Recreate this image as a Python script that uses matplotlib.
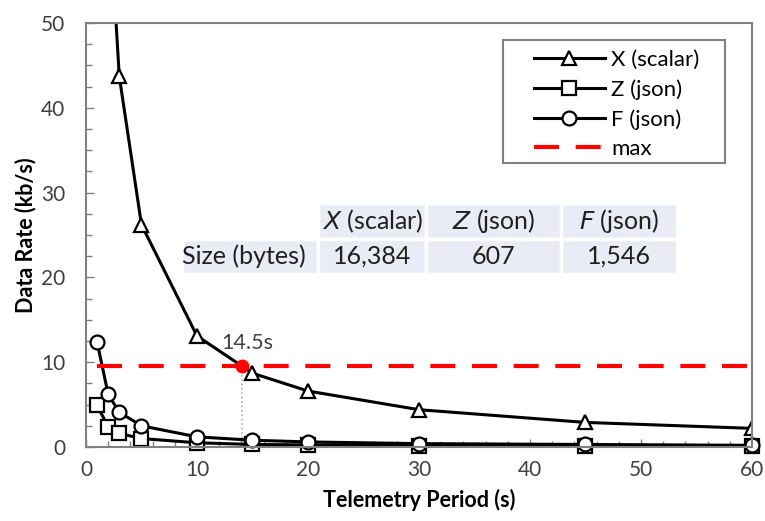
import matplotlib.pyplot as plt
from matplotlib.patches import Rectangle
from matplotlib.ticker import MultipleLocator

plt.rcParams['font.family'] = ['Lato', 'DejaVu Sans']

# telemetry period (s)
periods = [1, 2, 3, 5, 10, 15, 20, 30, 45, 60]
# data rate (kb/s)
rate_x = [131.1, 65.5, 43.7, 26.2, 13.1, 8.7, 6.6, 4.4, 2.9, 2.2]
rate_z = [4.9, 2.4, 1.6, 1.0, 0.5, 0.3, 0.25, 0.16, 0.11, 0.08]
rate_f = [12.4, 6.2, 4.1, 2.5, 1.2, 0.8, 0.6, 0.4, 0.3, 0.2]

max_rate = 9.6
max_span = [1, 60]
cross_period = 14.1
cross_label = "14.5s"

table_cols = ["", "$X$ (scalar)", "$Z$ (json)", "$F$ (json)"]
table_row = ["Size (bytes)", "16,384", "607", "1,546"]

grey = '#404040'
cell_bg = '#e9ebf5'


def main():
    fig = plt.figure(figsize=(7.65, 5.21), dpi=100)
    ax = fig.add_axes([0.1124, 0.142, 0.8706, 0.814])

    mk = dict(color='black', lw=2.2, markersize=10, markerfacecolor='white',
              markeredgecolor='black', markeredgewidth=1.6, clip_on=False)
    ax.plot(periods, rate_x, marker='^', label="X (scalar)", **{**mk, 'clip_on': True})
    ax.plot(periods, rate_z, marker='s', label="Z (json)", **mk)
    ax.plot(periods, rate_f, marker='o', label="F (json)", **mk)
    ax.plot(max_span, [max_rate, max_rate], color='#ff0000', lw=3,
            dashes=(6, 4), label="max")

    # crossing point of X with the max line
    ax.plot([cross_period, cross_period], [0, max_rate], color='#b0b0b0',
            lw=1.2, ls=':', zorder=1)
    ax.plot([cross_period], [max_rate], 'o', color='#ff0000', markersize=9, zorder=5)
    ax.text(cross_period - 1.9, max_rate + 1.5, cross_label, fontsize=15.5,
            color=grey, va='bottom', ha='left')

    ax.set_xlim(0, 60)
    ax.set_ylim(0, 50)
    ax.xaxis.set_major_locator(MultipleLocator(10))
    ax.xaxis.set_minor_locator(MultipleLocator(2))
    ax.yaxis.set_major_locator(MultipleLocator(10))
    ax.yaxis.set_minor_locator(MultipleLocator(2.5))
    ax.tick_params(which='both', direction='in', colors='#808080',
                   labelcolor=grey, labelsize=15, width=1)
    ax.tick_params(which='major', length=6)
    ax.tick_params(which='minor', length=4)
    ax.tick_params(axis='y', which='major', pad=15)
    ax.tick_params(axis='x', which='major', pad=9)
    for s in ax.spines.values():
        s.set_color('#808080')
        s.set_linewidth(1.5)

    ax.set_xlabel("Telemetry Period (s)", fontsize=15.5, fontweight='bold', labelpad=7)
    ax.set_ylabel("Data Rate (kb/s)", fontsize=15.5, fontweight='bold', labelpad=3)

    # legend frame drawn separately to get the wide left padding
    ax.add_patch(Rectangle((0.626, 0.67), 0.334, 0.29, transform=ax.transAxes,
                           facecolor='white', edgecolor='#808080', lw=1.5, zorder=6))
    leg = ax.legend(loc='upper left', bbox_to_anchor=(0.672, 0.936), fontsize=16,
                    frameon=False, handlelength=3.2, handletextpad=0.3,
                    labelspacing=0.42, borderpad=0, borderaxespad=0)
    leg.set_zorder(7)

    tb = ax.table(cellText=[table_cols, table_row], cellLoc='center',
                  colWidths=[0.276, 0.218, 0.272, 0.234],
                  bbox=[0.144, 0.408, 0.743, 0.167])
    tb.auto_set_font_size(False)
    for (r, c), cell in tb.get_celld().items():
        cell.set_edgecolor('white')
        cell.set_linewidth(2.5)
        cell.get_text().set_fontsize(18)
        cell.get_text().set_color('#202020')
        if r == 0 and c == 0:
            cell.set_facecolor('none')
            cell.set_edgecolor('none')
        else:
            cell.set_facecolor(cell_bg)
        if r == 1 and c == 0:
            cell.get_text().set_ha('left')
            cell._loc = 'left'
            cell.PAD = 0.0

    fig.savefig("out.png", dpi=100)


if __name__ == "__main__":
    main()
